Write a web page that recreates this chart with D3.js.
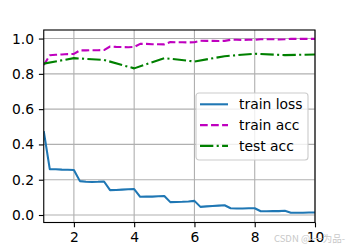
<!DOCTYPE html>
<html>
<head>
<meta charset="utf-8">
<script src="https://cdn.jsdelivr.net/npm/d3@7"></script>
<style>
  body { margin: 0; background: #fff; }
  svg { display: block; font-family: "DejaVu Sans", sans-serif; }
</style>
</head>
<body>
<svg width="350" height="250"></svg>
<script>
// train points every 0.2 epoch, test acc at whole epochs
const trainEpochs = [1.0,
  1.2, 1.4, 1.6, 1.8, 2.0, 2.2, 2.4, 2.6, 2.8, 3.0,
  3.2, 3.4, 3.6, 3.8, 4.0, 4.2, 4.4, 4.6, 4.8, 5.0,
  5.2, 5.4, 5.6, 5.8, 6.0, 6.2, 6.4, 6.6, 6.8, 7.0,
  7.2, 7.4, 7.6, 7.8, 8.0, 8.2, 8.4, 8.6, 8.8, 9.0,
  9.2, 9.4, 9.6, 9.8, 10.0];
const trainLoss = [0.475,
  0.260, 0.259, 0.257, 0.256, 0.255, 0.192, 0.188, 0.187, 0.188, 0.190,
  0.141, 0.142, 0.144, 0.146, 0.147, 0.103, 0.104, 0.104, 0.106, 0.108,
  0.073, 0.074, 0.075, 0.077, 0.080, 0.046, 0.049, 0.051, 0.053, 0.055,
  0.038, 0.037, 0.037, 0.038, 0.038, 0.021, 0.021, 0.022, 0.022, 0.024,
  0.013, 0.013, 0.013, 0.014, 0.014];
const trainAcc = [0.850,
  0.905, 0.908, 0.910, 0.912, 0.913, 0.933, 0.933, 0.934, 0.934, 0.935,
  0.955, 0.953, 0.952, 0.951, 0.952, 0.970, 0.970, 0.968, 0.968, 0.967,
  0.980, 0.979, 0.979, 0.978, 0.979, 0.988, 0.987, 0.987, 0.986, 0.987,
  0.993, 0.993, 0.992, 0.993, 0.993, 0.996, 0.996, 0.996, 0.995, 0.996,
  0.998, 0.998, 0.998, 0.998, 0.998];
const testEpochs = [1, 2, 3, 4, 5, 6, 7, 8, 9, 10];
const testAcc = [0.858, 0.889, 0.879, 0.831, 0.889, 0.870, 0.900, 0.914, 0.906, 0.910];

const xTicks = [2, 4, 6, 8, 10];
const yTicks = [0.0, 0.2, 0.4, 0.6, 0.8, 1.0];
const legendLabels = ["train loss", "train acc", "test acc"];

const width = 350, height = 250;
const margin = { top: 30, right: 35, bottom: 27.5, left: 43.75 };
const pt = 100 / 72;

const svg = d3.select("svg");

const xScale = d3.scaleLinear()
  .domain([1, 10])
  .range([margin.left, width - margin.right]);
const yScale = d3.scaleLinear()
  .domain([-0.0425, 1.0485])
  .range([height - margin.bottom, margin.top]);

// grid
svg.append("g")
  .selectAll("line.gx")
  .data(xTicks)
  .enter()
  .append("line")
  .attr("x1", d => xScale(d)).attr("x2", d => xScale(d))
  .attr("y1", margin.top).attr("y2", height - margin.bottom)
  .attr("stroke", "#b0b0b0").attr("stroke-width", 0.8 * pt);
svg.append("g")
  .selectAll("line.gy")
  .data(yTicks)
  .enter()
  .append("line")
  .attr("x1", margin.left).attr("x2", width - margin.right)
  .attr("y1", d => yScale(d)).attr("y2", d => yScale(d))
  .attr("stroke", "#b0b0b0").attr("stroke-width", 0.8 * pt);

svg.append("clipPath").attr("id", "plot")
  .append("rect")
  .attr("x", margin.left).attr("y", margin.top)
  .attr("width", width - margin.left - margin.right)
  .attr("height", height - margin.top - margin.bottom);

const line = d3.line().x(d => xScale(d[0])).y(d => yScale(d[1]));

const series = [
  { pts: trainEpochs.map((e, i) => [e, trainLoss[i]]), color: "#1f77b4", dash: null },
  { pts: trainEpochs.map((e, i) => [e, trainAcc[i]]), color: "#bf00bf", dash: [5.55 * pt, 2.4 * pt] },
  { pts: testEpochs.map((e, i) => [e, testAcc[i]]), color: "#008000", dash: [9.6 * pt, 2.4 * pt, 1.5 * pt, 2.4 * pt] }
];

const plot = svg.append("g").attr("clip-path", "url(#plot)");
series.forEach(s => {
  plot.append("path")
    .attr("d", line(s.pts))
    .attr("fill", "none")
    .attr("stroke", s.color)
    .attr("stroke-width", 1.5 * pt)
    .attr("stroke-linejoin", "round")
    .attr("stroke-dasharray", s.dash ? s.dash.join(",") : null);
});

// axes
const xAxis = d3.axisBottom(xScale).tickValues(xTicks).tickFormat(d3.format("d"))
  .tickSize(3.5 * pt).tickPadding(3.5 * pt);
const yAxis = d3.axisLeft(yScale).tickValues(yTicks).tickFormat(d3.format(".1f"))
  .tickSize(3.5 * pt).tickPadding(3.5 * pt);

svg.append("g")
  .attr("transform", `translate(0, ${height - margin.bottom})`)
  .call(xAxis)
  .call(g => g.select(".domain").remove());
svg.append("g")
  .attr("transform", `translate(${margin.left}, 0)`)
  .call(yAxis)
  .call(g => g.select(".domain").remove());

svg.selectAll(".tick line").attr("stroke", "#000").attr("stroke-width", 0.8 * pt);
svg.selectAll(".tick text").attr("font-size", 10 * pt).attr("fill", "#000")
  .attr("font-family", "DejaVu Sans");

// frame
svg.append("rect")
  .attr("x", margin.left).attr("y", margin.top)
  .attr("width", width - margin.left - margin.right)
  .attr("height", height - margin.top - margin.bottom)
  .attr("fill", "none").attr("stroke", "#000").attr("stroke-width", 0.8 * pt);

// legend
const legend = svg.append("g").attr("transform", "translate(196, 93)");
legend.append("rect")
  .attr("width", 112).attr("height", 67)
  .attr("rx", 3).attr("fill", "#fff").attr("fill-opacity", 0.8)
  .attr("stroke", "#cccccc").attr("stroke-width", 0.8 * pt);
series.forEach((s, i) => {
  const y = 11.3 + i * 20.8;
  legend.append("line")
    .attr("x1", 4).attr("x2", 32).attr("y1", y).attr("y2", y)
    .attr("stroke", s.color).attr("stroke-width", 1.5 * pt)
    .attr("stroke-dasharray", s.dash ? s.dash.join(",") : null);
  legend.append("text")
    .attr("x", 43).attr("y", y).attr("dy", "0.35em")
    .attr("font-size", 10 * pt).attr("fill", "#000")
    .text(legendLabels[i]);
});

// watermark
svg.append("text")
  .attr("x", 345).attr("y", 242).attr("text-anchor", "end")
  .attr("font-family", "Noto Sans CJK SC, sans-serif")
  .attr("font-size", 9.5).attr("fill", "#c8c8c8")
  .text("CSDN @-一为品-");
</script>
</body>
</html>
